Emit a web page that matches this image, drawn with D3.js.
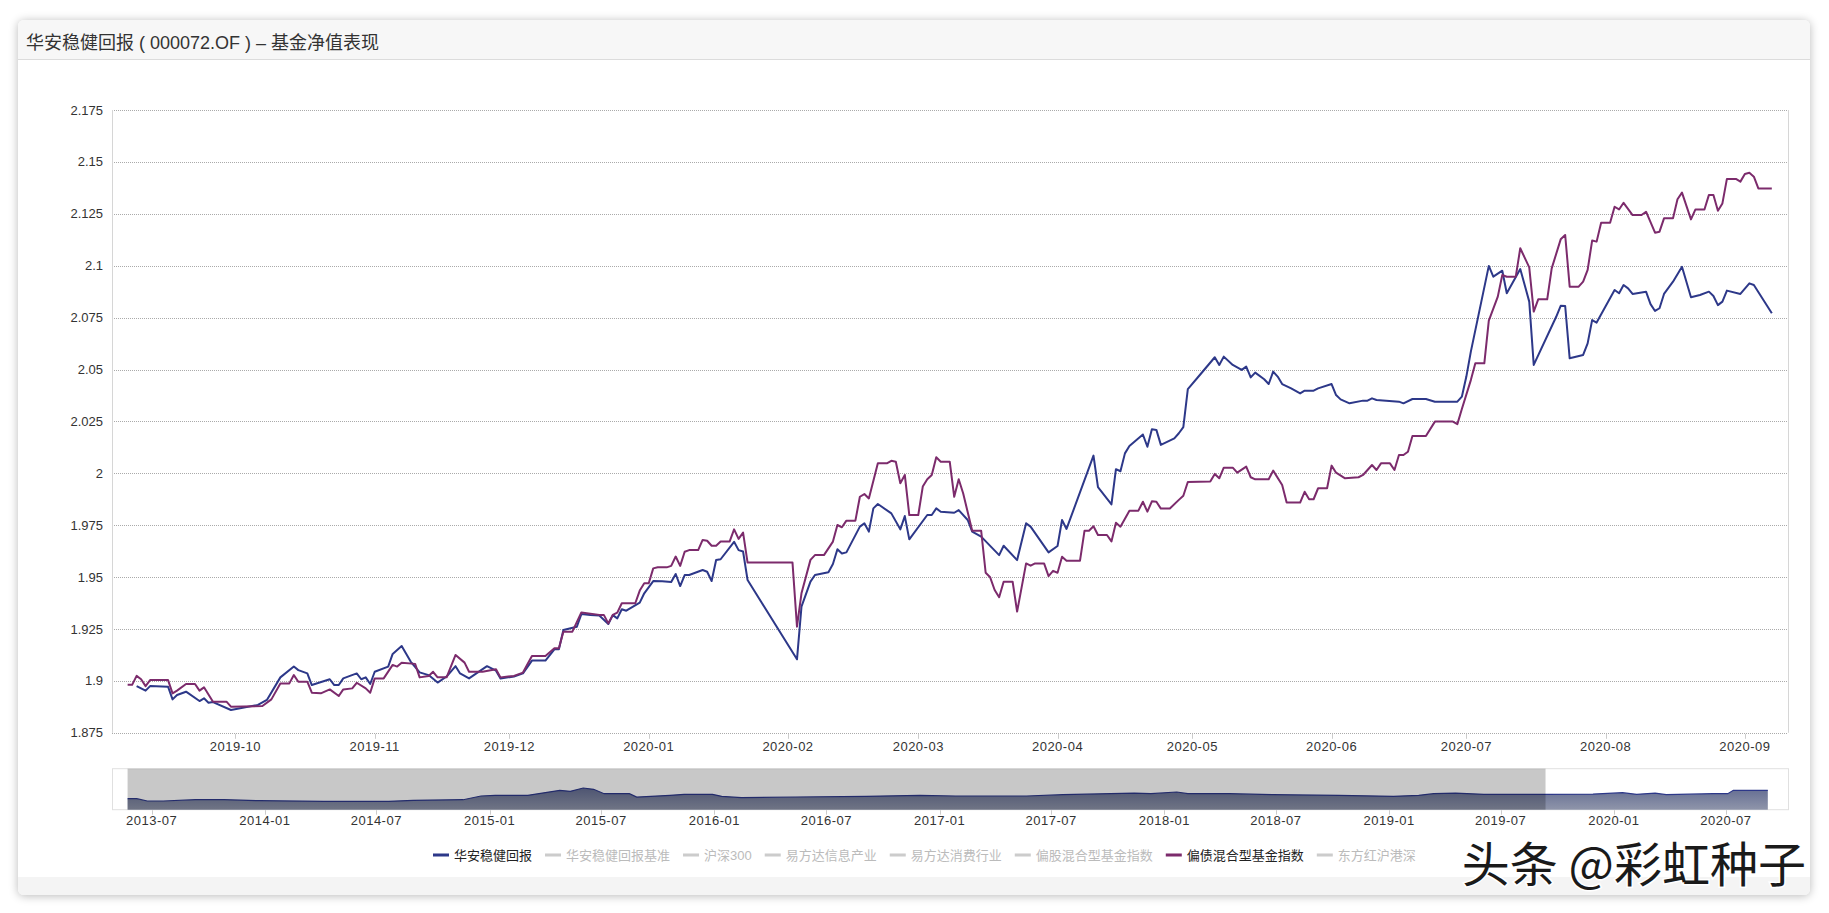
<!DOCTYPE html>
<html><head><meta charset="utf-8">
<script src="https://cdn.jsdelivr.net/npm/d3@7"></script>
<style>
html,body{margin:0;padding:0;background:#fff;width:1829px;height:913px;overflow:hidden;}
#card{position:absolute;left:18px;top:20px;width:1792px;height:875px;border-radius:6px;background:#fff;box-shadow:0 1px 10px rgba(0,0,0,0.28);}
svg{position:absolute;left:0;top:0;}
</style></head><body>
<div id="card"></div>
<svg id="chart" width="1829" height="913"></svg>
<script>
const titleText = "华安稳健回报 ( 000072.OF ) – 基金净值表现";
const yTicks = [1.875, 1.9, 1.925, 1.95, 1.975, 2, 2.025, 2.05, 2.075, 2.1, 2.125, 2.15, 2.175];
const legendNames = ["华安稳健回报","华安稳健回报基准","沪深300","易方达信息产业","易方达消费行业","偏股混合型基金指数","偏债混合型基金指数","东方红沪港深"];
const activeNames = ["华安稳健回报","偏债混合型基金指数"];
const seriesColors = {"华安稳健回报":"#2d3889","偏债混合型基金指数":"#7c2b6c"};
const watermarkText = "头条 @彩虹种子";
const zoomStart = "2019-09-12";

// 华安稳健回报 (date, NAV)
const fundSeries = [
["2019-09-09",1.8975],["2019-09-11",1.8953],["2019-09-12",1.8975],["2019-09-16",1.8972],["2019-09-17",1.8911],["2019-09-18",1.8932],["2019-09-20",1.8948],["2019-09-23",1.8903],["2019-09-24",1.8916],["2019-09-25",1.8895],["2019-09-26",1.8898],["2019-09-30",1.886],
["2019-10-06",1.8884],["2019-10-08",1.8908],["2019-10-11",1.9017],["2019-10-14",1.9069],["2019-10-15",1.9052],["2019-10-17",1.9036],["2019-10-18",1.898],["2019-10-22",1.9008],["2019-10-23",1.898],["2019-10-24",1.898],["2019-10-25",1.9012],["2019-10-28",1.9036],["2019-10-29",1.9008],["2019-10-30",1.9017],["2019-10-31",1.8985],
["2019-11-01",1.9044],["2019-11-04",1.9069],["2019-11-05",1.913],["2019-11-07",1.9168],["2019-11-09",1.9093],["2019-11-11",1.9041],["2019-11-13",1.9028],["2019-11-15",1.8992],["2019-11-17",1.9021],["2019-11-19",1.9071],["2019-11-20",1.9036],["2019-11-22",1.9012],["2019-11-26",1.9071],["2019-11-28",1.9049],["2019-11-29",1.9012],
["2019-12-02",1.9021],["2019-12-04",1.9036],["2019-12-06",1.9098],["2019-12-09",1.9098],["2019-12-11",1.9152],["2019-12-12",1.9152],["2019-12-13",1.9245],["2019-12-16",1.9261],["2019-12-17",1.9322],["2019-12-19",1.9317],["2019-12-21",1.9315],["2019-12-23",1.9274],["2019-12-24",1.9317],["2019-12-25",1.9301],["2019-12-26",1.9345],["2019-12-27",1.9338],["2019-12-30",1.9377],["2019-12-31",1.9422],
["2020-01-02",1.9481],["2020-01-04",1.948],["2020-01-06",1.9476],["2020-01-07",1.9515],["2020-01-08",1.9457],["2020-01-09",1.951],["2020-01-10",1.951],["2020-01-13",1.9534],["2020-01-14",1.9526],["2020-01-15",1.9481],["2020-01-16",1.9582],["2020-01-17",1.9586],["2020-01-20",1.967],["2020-01-21",1.963],["2020-01-22",1.9623],["2020-01-23",1.9486],
["2020-02-03",1.9104],["2020-02-04",1.9358],["2020-02-06",1.9478],["2020-02-07",1.951],["2020-02-10",1.9523],["2020-02-11",1.9563],["2020-02-12",1.9634],["2020-02-13",1.9614],["2020-02-14",1.9619],["2020-02-17",1.9743],["2020-02-18",1.9759],["2020-02-19",1.9719],["2020-02-20",1.9831],["2020-02-21",1.9852],["2020-02-24",1.9807],["2020-02-26",1.973],["2020-02-27",1.9794],["2020-02-28",1.9682],
["2020-03-03",1.9799],["2020-03-04",1.9799],["2020-03-05",1.9831],["2020-03-06",1.9815],["2020-03-09",1.981],["2020-03-10",1.9823],["2020-03-12",1.9775],["2020-03-13",1.9719],["2020-03-15",1.9695],["2020-03-19",1.9606],["2020-03-20",1.9651],["2020-03-23",1.9582],["2020-03-25",1.9759],["2020-03-26",1.9743],["2020-03-30",1.9619],
["2020-04-01",1.965],["2020-04-02",1.9775],["2020-04-03",1.9732],["2020-04-09",2.0085],["2020-04-10",1.9933],["2020-04-13",1.985],["2020-04-14",2.002],["2020-04-15",2.001],["2020-04-16",2.0096],["2020-04-17",2.0132],["2020-04-20",2.0187],["2020-04-21",2.0128],["2020-04-22",2.0212],["2020-04-23",2.0209],["2020-04-24",2.0137],["2020-04-27",2.0168],["2020-04-28",2.0193],["2020-04-29",2.0222],["2020-04-30",2.0405],
["2020-05-03",2.0482],["2020-05-06",2.0559],["2020-05-07",2.0522],["2020-05-08",2.0562],["2020-05-10",2.0522],["2020-05-12",2.0498],["2020-05-13",2.0514],["2020-05-14",2.0462],["2020-05-15",2.0485],["2020-05-17",2.0453],["2020-05-18",2.043],["2020-05-19",2.049],["2020-05-20",2.0466],["2020-05-21",2.043],["2020-05-23",2.0409],["2020-05-25",2.0385],["2020-05-26",2.0398],["2020-05-28",2.0398],["2020-05-29",2.0409],
["2020-06-01",2.043],["2020-06-02",2.0377],["2020-06-03",2.0356],["2020-06-05",2.0337],["2020-06-08",2.035],["2020-06-09",2.035],["2020-06-10",2.0361],["2020-06-11",2.0353],["2020-06-16",2.0345],["2020-06-17",2.0337],["2020-06-19",2.0358],["2020-06-22",2.0358],["2020-06-24",2.0345],["2020-06-29",2.0345],["2020-06-30",2.0369],
["2020-07-01",2.0466],["2020-07-02",2.0586],["2020-07-06",2.0999],["2020-07-07",2.0947],["2020-07-09",2.0976],["2020-07-10",2.0867],["2020-07-13",2.0984],["2020-07-15",2.0827],["2020-07-16",2.0522],["2020-07-21",2.0754],["2020-07-22",2.0807],["2020-07-23",2.0806],["2020-07-24",2.0554],["2020-07-27",2.057],["2020-07-28",2.0626],["2020-07-29",2.0738],["2020-07-30",2.0726],
["2020-08-03",2.0883],["2020-08-04",2.0867],["2020-08-05",2.0907],["2020-08-06",2.0891],["2020-08-07",2.0864],["2020-08-10",2.0875],["2020-08-11",2.0815],["2020-08-12",2.0782],["2020-08-13",2.0795],["2020-08-14",2.0864],["2020-08-16",2.0923],["2020-08-18",2.0995],["2020-08-20",2.0848],["2020-08-22",2.0859],["2020-08-24",2.0875],["2020-08-25",2.0854],["2020-08-26",2.081],["2020-08-27",2.0827],["2020-08-28",2.088],["2020-08-31",2.0864],
["2020-09-02",2.0915],["2020-09-03",2.0907],["2020-09-07",2.0771]
];

// 偏债混合型基金指数 (date, value)
const bondSeries = [
["2019-09-07",1.8981],["2019-09-08",1.8981],["2019-09-09",1.9024],["2019-09-10",1.9008],["2019-09-11",1.8975],["2019-09-12",1.9004],["2019-09-16",1.9004],["2019-09-17",1.894],["2019-09-18",1.8953],["2019-09-20",1.8985],["2019-09-22",1.8985],["2019-09-23",1.8953],["2019-09-24",1.8969],["2019-09-26",1.89],["2019-09-29",1.89],["2019-09-30",1.8876],
["2019-10-07",1.8879],["2019-10-09",1.8911],["2019-10-11",1.8988],["2019-10-13",1.8988],["2019-10-14",1.9028],["2019-10-15",1.8996],["2019-10-17",1.8996],["2019-10-18",1.8943],["2019-10-20",1.894],["2019-10-22",1.8959],["2019-10-24",1.8927],["2019-10-25",1.8959],["2019-10-27",1.8964],["2019-10-28",1.8991],["2019-10-30",1.8964],["2019-10-31",1.8943],
["2019-11-01",1.9012],["2019-11-03",1.9012],["2019-11-05",1.9077],["2019-11-06",1.9069],["2019-11-07",1.9088],["2019-11-10",1.9082],["2019-11-11",1.9017],["2019-11-13",1.9024],["2019-11-14",1.9044],["2019-11-15",1.9017],["2019-11-17",1.9017],["2019-11-19",1.9125],["2019-11-21",1.9088],["2019-11-22",1.9044],["2019-11-25",1.9044],["2019-11-28",1.9056],["2019-11-29",1.9017],
["2019-12-02",1.9024],["2019-12-04",1.904],["2019-12-06",1.912],["2019-12-09",1.912],["2019-12-11",1.9157],["2019-12-12",1.9157],["2019-12-13",1.9237],["2019-12-15",1.9237],["2019-12-17",1.933],["2019-12-21",1.9318],["2019-12-22",1.9318],["2019-12-23",1.9277],["2019-12-24",1.9318],["2019-12-25",1.9329],["2019-12-26",1.9374],["2019-12-29",1.9374],["2019-12-30",1.9435],["2019-12-31",1.947],
["2020-01-01",1.947],["2020-01-02",1.9542],["2020-01-03",1.9547],["2020-01-05",1.9547],["2020-01-06",1.9554],["2020-01-07",1.9599],["2020-01-08",1.9554],["2020-01-09",1.9622],["2020-01-10",1.963],["2020-01-12",1.963],["2020-01-13",1.9679],["2020-01-14",1.9675],["2020-01-15",1.9651],["2020-01-16",1.9651],["2020-01-17",1.9671],["2020-01-19",1.9671],["2020-01-20",1.973],["2020-01-21",1.9684],["2020-01-22",1.9714],["2020-01-23",1.957],
["2020-02-02",1.957],["2020-02-03",1.9261],["2020-02-04",1.9422],["2020-02-06",1.9583],["2020-02-07",1.9606],["2020-02-09",1.9606],["2020-02-11",1.9671],["2020-02-12",1.9751],["2020-02-13",1.974],["2020-02-14",1.9772],["2020-02-16",1.9772],["2020-02-17",1.9887],["2020-02-18",1.99],["2020-02-19",1.9879],["2020-02-21",2.0048],["2020-02-23",2.0048],["2020-02-24",2.006],["2020-02-25",2.0056],["2020-02-26",1.9952],["2020-02-27",1.9992],["2020-02-28",1.9799],
["2020-03-01",1.9799],["2020-03-02",1.9936],["2020-03-03",1.9971],["2020-03-04",1.9992],["2020-03-05",2.0077],["2020-03-06",2.0056],["2020-03-08",2.0056],["2020-03-09",1.9887],["2020-03-10",1.9971],["2020-03-11",1.9903],["2020-03-13",1.9723],["2020-03-15",1.9723],["2020-03-16",1.9521],["2020-03-17",1.9499],["2020-03-18",1.9438],["2020-03-19",1.9403],["2020-03-20",1.9478],["2020-03-22",1.9478],["2020-03-23",1.9334],["2020-03-25",1.9566],["2020-03-26",1.9555],["2020-03-27",1.9566],["2020-03-29",1.9566],["2020-03-30",1.9505],["2020-03-31",1.953],
["2020-04-01",1.9521],["2020-04-02",1.9598],["2020-04-03",1.9579],["2020-04-06",1.9579],["2020-04-07",1.9723],["2020-04-08",1.9723],["2020-04-09",1.9745],["2020-04-10",1.9703],["2020-04-12",1.9703],["2020-04-13",1.9672],["2020-04-14",1.9762],["2020-04-15",1.9743],["2020-04-17",1.982],["2020-04-19",1.982],["2020-04-20",1.9863],["2020-04-21",1.9815],["2020-04-22",1.9865],["2020-04-23",1.9863],["2020-04-24",1.983],["2020-04-26",1.983],["2020-04-28",1.9872],["2020-04-29",1.9892],["2020-04-30",1.9958],
["2020-05-05",1.996],["2020-05-06",1.9997],["2020-05-07",1.9976],["2020-05-08",2.0027],["2020-05-10",2.0027],["2020-05-11",2.0003],["2020-05-13",2.0032],["2020-05-14",1.9981],["2020-05-15",1.9971],["2020-05-18",1.9971],["2020-05-19",2.0013],["2020-05-21",1.9944],["2020-05-22",1.9859],["2020-05-25",1.9859],["2020-05-26",1.9911],["2020-05-27",1.9875],["2020-05-28",1.9875],["2020-05-29",1.9928],["2020-05-31",1.9928],
["2020-06-01",2.0037],["2020-06-02",2.0003],["2020-06-04",1.9976],["2020-06-07",1.9981],["2020-06-08",1.9992],["2020-06-10",2.004],["2020-06-11",2.0016],["2020-06-12",2.0048],["2020-06-14",2.0048],["2020-06-15",2.0016],["2020-06-16",2.0088],["2020-06-17",2.0088],["2020-06-18",2.0104],["2020-06-19",2.018],["2020-06-22",2.018],["2020-06-24",2.0249],["2020-06-28",2.0249],["2020-06-29",2.0237],["2020-06-30",2.031],
["2020-07-02",2.0449],["2020-07-03",2.053],["2020-07-05",2.053],["2020-07-06",2.0735],["2020-07-08",2.0851],["2020-07-09",2.0955],["2020-07-10",2.0947],["2020-07-12",2.0947],["2020-07-13",2.1084],["2020-07-15",2.0992],["2020-07-16",2.0779],["2020-07-17",2.0838],["2020-07-19",2.0838],["2020-07-20",2.0987],["2020-07-22",2.1127],["2020-07-23",2.1148],["2020-07-24",2.0899],["2020-07-26",2.0899],["2020-07-27",2.0923],["2020-07-28",2.098],["2020-07-29",2.1121],["2020-07-30",2.1116],["2020-07-31",2.1207],
["2020-08-02",2.1207],["2020-08-03",2.1284],["2020-08-04",2.1271],["2020-08-05",2.1303],["2020-08-07",2.1244],["2020-08-09",2.1244],["2020-08-10",2.126],["2020-08-12",2.1159],["2020-08-13",2.1164],["2020-08-14",2.1228],["2020-08-16",2.1228],["2020-08-17",2.132],["2020-08-18",2.1352],["2020-08-20",2.1223],["2020-08-21",2.1271],["2020-08-23",2.1271],["2020-08-24",2.1341],["2020-08-25",2.1341],["2020-08-26",2.1265],["2020-08-27",2.13],["2020-08-28",2.1418],["2020-08-30",2.1418],["2020-08-31",2.1405],
["2020-09-01",2.1442],["2020-09-02",2.1448],["2020-09-03",2.1429],["2020-09-04",2.1372],["2020-09-07",2.1372]
];

// navigator: full history of 华安稳健回报 (date, value)
const navSeries = [
["2013-05-23",1.575],["2013-06-07",1.575],["2013-06-24",1.497],["2013-07-20",1.497],["2013-09-10",1.541],["2013-10-27",1.541],["2013-12-24",1.507],["2014-04-07",1.486],["2014-07-21",1.486],["2014-08-30",1.521],["2014-11-19",1.541],["2014-12-18",1.667],["2015-01-10",1.691],["2015-03-04",1.691],["2015-04-25",1.862],["2015-05-12",1.827],["2015-06-02",1.94],["2015-06-19",1.896],["2015-07-06",1.746],["2015-08-16",1.746],["2015-08-28",1.633],["2015-10-21",1.691],["2015-11-13",1.725],["2015-12-29",1.725],["2016-01-13",1.657],["2016-02-14",1.609],["2016-05-11",1.633],["2016-09-04",1.657],["2016-11-30",1.691],["2017-01-27",1.667],["2017-05-22",1.667],["2017-07-20",1.712],["2017-11-13",1.769],["2017-12-10",1.746],["2018-01-21",1.804],["2018-02-08",1.746],["2018-04-17",1.746],["2018-06-27",1.712],["2018-10-11",1.691],["2019-01-08",1.657],["2019-02-18",1.691],["2019-03-14",1.746],["2019-04-19",1.769],["2019-06-04",1.725],["2019-09-13",1.725],["2019-11-28",1.735],["2020-01-15",1.78],["2020-02-07",1.725],["2020-03-08",1.769],["2020-03-26",1.712],["2020-06-10",1.746],["2020-07-04",1.746],["2020-07-13",1.862],["2020-08-03",1.862],["2020-09-07",1.862]
];

const parse = d3.timeParse("%Y-%m-%d");
const toPts = s => s.map(d => ({date: parse(d[0]), value: d[1]}));
const fund = toPts(fundSeries), bond = toPts(bondSeries), nav = toPts(navSeries);

const FONT = "'Liberation Sans', Arial, 'Noto Sans CJK SC', sans-serif";
const svg = d3.select("#chart").style("font-family", FONT);

// card header & footer
svg.append("path").attr("d","M18,59 L18,26 Q18,20 24,20 L1804,20 Q1810,20 1810,26 L1810,59 Z").attr("fill","#f7f7f7");
svg.append("line").attr("x1",18).attr("x2",1810).attr("y1",59.5).attr("y2",59.5).attr("stroke","#dcdcdc");
svg.append("path").attr("d","M18,877 L1810,877 L1810,889 Q1810,895 1804,895 L24,895 Q18,895 18,889 Z").attr("fill","#f4f4f4");
svg.append("text").attr("x",26).attr("y",43).attr("dominant-baseline","central")
  .attr("font-size",18).attr("fill","#333").text(titleText);

// main scales
const L = 112, R = 1788, T = 110, B = 732.8;
const x = d3.scaleTime().domain([new Date(2019,8,3,12,30), new Date(2020,8,10,14,24)]).range([L, R]);
const y = d3.scaleLinear().domain([1.875, 2.175]).range([B, T]);

// gridlines
svg.append("g").selectAll("line").data(yTicks).join("line")
  .attr("x1",L).attr("x2",R)
  .attr("y1",d=>Math.round(y(d))+0.5).attr("y2",d=>Math.round(y(d))+0.5)
  .attr("stroke","#aaa").attr("stroke-dasharray","1,1");
svg.append("line").attr("x1",L+0.5).attr("x2",L+0.5).attr("y1",T).attr("y2",B).attr("stroke","#d6d6d6");
svg.append("line").attr("x1",R+0.5).attr("x2",R+0.5).attr("y1",T).attr("y2",B).attr("stroke","#d6d6d6");

// y labels
svg.append("g").selectAll("text").data(yTicks).join("text")
  .attr("x",103).attr("y",d=>y(d)).attr("text-anchor","end").attr("dominant-baseline","central")
  .attr("font-size",13).attr("fill","#333").text(d=>d3.format(".4~f")(d));

// x axis
const xt = x.ticks(d3.timeMonth.every(1));
const fmt = d3.timeFormat("%Y-%m");
const xg = svg.append("g");
xg.selectAll("line").data(xt).join("line")
  .attr("x1",d=>Math.round(x(d))+0.5).attr("x2",d=>Math.round(x(d))+0.5)
  .attr("y1",B+1).attr("y2",B+6).attr("stroke","#ccc");
xg.selectAll("text").data(xt).join("text")
  .attr("x",d=>x(d)).attr("y",746.5).attr("text-anchor","middle").attr("dominant-baseline","central")
  .attr("font-size",13).attr("letter-spacing","0.5px").attr("fill","#333").text(d=>fmt(d));

// lines
const line = d3.line().x(d=>x(d.date)).y(d=>y(d.value));
svg.append("path").datum(fund).attr("d",line).attr("fill","none")
  .attr("stroke",seriesColors["华安稳健回报"]).attr("stroke-width",2).attr("stroke-linejoin","round");
svg.append("path").datum(bond).attr("d",line).attr("fill","none")
  .attr("stroke",seriesColors["偏债混合型基金指数"]).attr("stroke-width",2).attr("stroke-linejoin","round");

// navigator
const NT = 768.7, NB = 809.7;
const nx = d3.scaleTime().domain([new Date(2013,3,27,17), new Date(2020,9,9,19)]).range([L, R]);
const ny = d3.scaleLinear().domain([1.2, 2.6]).range([NB, NT]);
const defs = svg.append("defs");
const grad = defs.append("linearGradient").attr("id","navGrad").attr("x1",0).attr("x2",0).attr("y1",0).attr("y2",1);
grad.append("stop").attr("offset","0%").attr("stop-color","#646d92");
grad.append("stop").attr("offset","100%").attr("stop-color","#8f95aa");
svg.append("rect").attr("x",L+0.5).attr("y",NT).attr("width",R-L).attr("height",NB-NT)
  .attr("fill","#fff").attr("stroke","#e0e0e0");
const area = d3.area().x(d=>nx(d.date)).y0(NB).y1(d=>ny(d.value));
svg.append("path").datum(nav).attr("d",area).attr("fill","url(#navGrad)");
svg.append("path").datum(nav).attr("d",d3.line().x(d=>nx(d.date)).y(d=>ny(d.value)))
  .attr("fill","none").attr("stroke","#2d3889").attr("stroke-width",1.2);
const zs = nx(nav[0].date), ze = nx(parse(zoomStart));
svg.append("rect").attr("x",zs).attr("y",NT).attr("width",ze-zs).attr("height",NB-NT)
  .attr("fill","rgba(0,0,0,0.215)");

const nt = nx.ticks(d3.timeMonth.every(6));
const ng = svg.append("g");
ng.selectAll("line").data(nt).join("line")
  .attr("x1",d=>Math.round(nx(d))+0.5).attr("x2",d=>Math.round(nx(d))+0.5)
  .attr("y1",NB+0.5).attr("y2",NB+5).attr("stroke","#ccc");
ng.selectAll("text").data(nt).join("text")
  .attr("x",d=>nx(d)).attr("y",820.5).attr("text-anchor","middle").attr("dominant-baseline","central")
  .attr("font-size",13).attr("letter-spacing","0.5px").attr("fill","#333").text(d=>fmt(d));

// legend
let lx = 433;
const lg = svg.append("g");
legendNames.forEach(name => {
  const active = activeNames.includes(name);
  lg.append("rect").attr("x",lx).attr("y",853.5).attr("width",16).attr("height",3)
    .attr("fill", active ? seriesColors[name] : "#ccc");
  const t = lg.append("text").attr("x",lx+21).attr("y",855).attr("dominant-baseline","central")
    .attr("font-size",13).attr("fill", active ? "#222" : "#bbb").text(name);
  lx = lx + 21 + t.node().getComputedTextLength() + 13;
});

// watermark
svg.append("text").attr("x",1806).attr("y",861).attr("text-anchor","end").attr("dominant-baseline","central")
  .attr("font-family","'Noto Sans CJK SC', sans-serif").attr("font-size",48).attr("font-weight",400)
  .attr("fill","#1a1a1a").attr("stroke","#fff").attr("stroke-width",3).attr("paint-order","stroke")
  .text(watermarkText);
</script>
</body></html>
